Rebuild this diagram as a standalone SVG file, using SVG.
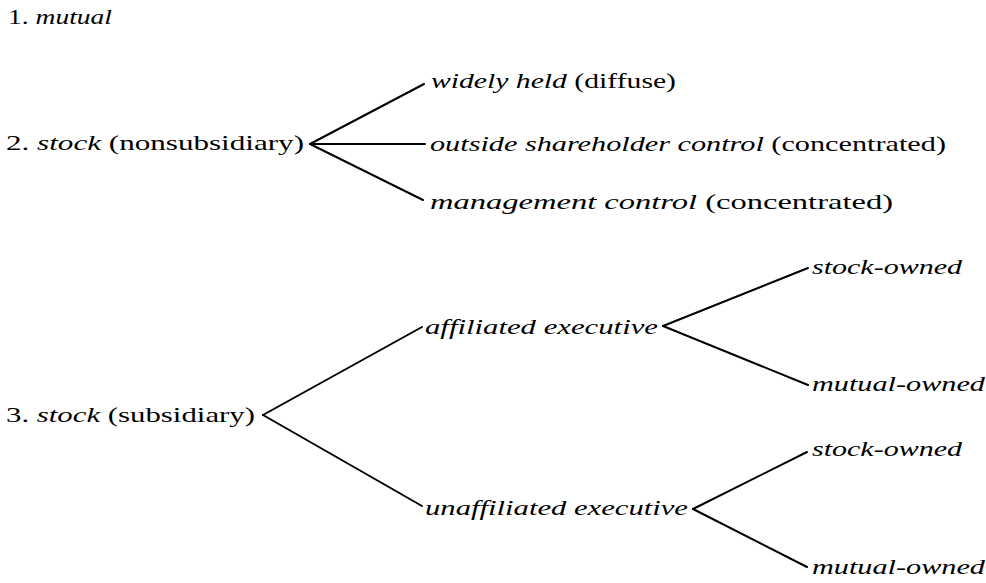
<svg xmlns="http://www.w3.org/2000/svg" width="986" height="583" viewBox="0 0 986 583">
<style>
text{font-family:"Liberation Serif","Times New Roman",serif;font-size:22px;fill:#000}
.i{font-style:italic}
.c line{stroke:#000;stroke-width:2;stroke-linecap:round}
</style>
<rect width="986" height="583" fill="#fff"/>
<g id="n1"><text x="8" y="24" textLength="104" lengthAdjust="spacingAndGlyphs">1. <tspan class="i">mutual</tspan></text></g>
<g id="n2"><text x="6" y="150" textLength="298" lengthAdjust="spacingAndGlyphs">2. <tspan class="i">stock</tspan> (nonsubsidiary)</text></g>
<g id="n2a"><text x="431" y="88" textLength="245" lengthAdjust="spacingAndGlyphs"><tspan class="i">widely held</tspan> (diffuse)</text></g>
<g id="n2b"><text x="430" y="151" textLength="516" lengthAdjust="spacingAndGlyphs"><tspan class="i">outside shareholder control</tspan> (concentrated)</text></g>
<g id="n2c"><text x="430" y="209" textLength="463" lengthAdjust="spacingAndGlyphs"><tspan class="i">management control</tspan> (concentrated)</text></g>
<g id="n3"><text x="6" y="422" textLength="249" lengthAdjust="spacingAndGlyphs">3. <tspan class="i">stock</tspan> (subsidiary)</text></g>
<g id="n3a"><text class="i" x="425" y="334" textLength="233" lengthAdjust="spacingAndGlyphs">affiliated executive</text></g>
<g id="n3b"><text class="i" x="425" y="515" textLength="263" lengthAdjust="spacingAndGlyphs">unaffiliated executive</text></g>
<g id="n3a1"><text class="i" x="812" y="274" textLength="150" lengthAdjust="spacingAndGlyphs">stock-owned</text></g>
<g id="n3a2"><text class="i" x="812" y="391" textLength="173" lengthAdjust="spacingAndGlyphs">mutual-owned</text></g>
<g id="n3b1"><text class="i" x="812" y="456" textLength="150" lengthAdjust="spacingAndGlyphs">stock-owned</text></g>
<g id="n3b2"><text class="i" x="812" y="574" textLength="173" lengthAdjust="spacingAndGlyphs">mutual-owned</text></g>
<g id="connectors" class="c">
<line x1="310" y1="144" x2="424" y2="84"/>
<line x1="310" y1="144" x2="425" y2="144"/>
<line x1="310" y1="144" x2="423" y2="200"/>
<line x1="263" y1="415" x2="422" y2="327"/>
<line x1="263" y1="415" x2="422" y2="506"/>
<line x1="663" y1="326" x2="808" y2="268"/>
<line x1="663" y1="326" x2="808" y2="385"/>
<line x1="693" y1="509" x2="807" y2="452"/>
<line x1="693" y1="509" x2="807" y2="567"/>
</g>
</svg>
